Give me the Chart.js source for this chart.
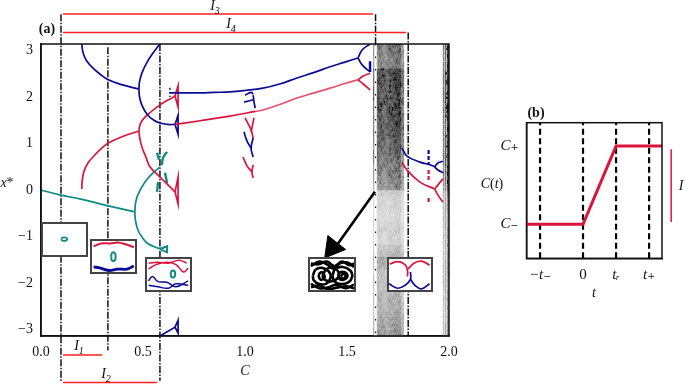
<!DOCTYPE html>
<html><head><meta charset="utf-8">
<script src="https://cdn.jsdelivr.net/npm/chart.js@4"></script>
<style>
html,body{margin:0;padding:0;background:#fff;width:685px;height:384px;overflow:hidden}
canvas{position:absolute}
.t{position:absolute;font-family:"Liberation Serif",serif;font-size:14px;color:#111;line-height:14px;white-space:nowrap;transform:translate(-50%,-50%)}
.t i sub{font-size:10px;line-height:0}
.box{position:absolute;background:#fff;border:2px solid #444;box-sizing:border-box}
.box canvas{position:absolute;left:0;top:0}
</style></head><body>
<canvas id="a" width="685" height="384" style="left:0;top:0"></canvas>
<canvas id="b" width="685" height="384" style="left:0;top:0"></canvas>
<div class="t" style="left:47px;top:29px;font-weight:bold">(a)</div>
<div class="t" style="left:215px;top:6px"><i>I<sub>3</sub></i></div>
<div class="t" style="left:231px;top:24px"><i>I<sub>4</sub></i></div>
<div class="t" style="left:79px;top:346px"><i>I<sub>1</sub></i></div>
<div class="t" style="left:106px;top:374px"><i>I<sub>2</sub></i></div>
<div class="t" style="left:7px;top:183px"><i>x</i>*</div>
<div class="t" style="left:245px;top:371px"><i>C</i></div>
<div class="t" style="left:536px;top:113px;font-weight:bold">(b)</div>
<div class="t" style="left:492px;top:184px"><i>C</i>(<i>t</i>)</div>
<div class="t" style="left:594px;top:293px"><i>t</i></div>
<div class="t" style="left:681px;top:186px"><i>I</i></div>
<script>
const RED="#dc143c",PINK="#e8506f",BLUE="#0b0b96",TEAL="#0b8b84",LINE="#ff2020";
const cTicks=[0,0.5,1,1.5,2];
const xTicks=[-3,-2,-1,0,1,2,3];
// main attractor branches (C, x*)
const blueStem=[[.2,3.14],[.203,3.02],[.21,2.9],[.225,2.77],[.255,2.62],[.29,2.49],[.33,2.37],[.4,2.26],[.48,2.17]];
const blueForkUp=[[.48,2.17],[.483,2.33],[.495,2.52],[.52,2.75],[.55,2.95],[.583,3.14]];
const blueForkDown=[[.48,2.17],[.483,2],[.495,1.82],[.52,1.63],[.55,1.51],[.583,1.44],[.62,1.41],[.657,1.41]];
const redStem=[[.2,.02],[.202,.2],[.21,.39],[.23,.58],[.255,.71],[.29,.87],[.33,1.01],[.4,1.15],[.48,1.27]];
const redForkUp=[[.48,1.27],[.484,1.38],[.495,1.49],[.52,1.61],[.583,1.83],[.62,1.93],[.657,2.02]];
const redForkDown=[[.48,1.27],[.484,1.12],[.495,.92],[.515,.7],[.534,.5],[.583,.28],[.62,.12],[.657,-.04]];
const tealStem=[[0,0],[.098,-.11],[.2,-.2],[.33,-.34],[.46,-.47]];
const tealForkUp=[[.46,-.47],[.463,-.3],[.475,-.1],[.51,.17],[.545,.35],[.583,.49]];
const tealForkDown=[[.46,-.47],[.463,-.65],[.475,-.86],[.495,-1.01],[.52,-1.14],[.56,-1.23],[.6,-1.27]];
const tealHead=[[.583,-1.27],[.618,-1.21],[.618,-1.34],[.583,-1.27]];
const tealBitA=[[.618,.82],[.598,.69],[.593,.54]];
const tealBitB=[[.569,.8],[.578,.65]];
const tealBitC=[[.608,.37],[.618,.15]];
const tealBitD=[[.574,.17],[.569,-.04]];
const redTriTop=[[.657,2.02],[.672,2.24],[.672,1.78],[.657,2.02]];
const blueTriMid=[[.657,1.41],[.672,1.61],[.672,1.2],[.657,1.41]];
const redTriLow=[[.657,-.04],[.672,.28],[.672,-.3],[.657,-.04]];
const blueTriBottom=[[.583,-3.14],[.657,-2.95],[.672,-2.8],[.672,-3.08],[.657,-2.95]];
const blueMain=[[.632,2.09],[.7,2.09],[.78,2.09],[.85,2.1],[.926,2.11],[1,2.14],[1.088,2.19],[1.17,2.28],[1.255,2.41],[1.34,2.53],[1.417,2.65],[1.49,2.75],[1.554,2.84]];
const redMainA=[[.657,1.41],[.78,1.49],[.926,1.59],[1.05,1.69]];
const redMainB=[[1.05,1.69],[1.088,1.72],[1.17,1.84],[1.255,1.98],[1.34,2.09],[1.417,2.19],[1.49,2.29],[1.554,2.37]];
const blueEndUp=[[1.554,2.84],[1.574,3.01],[1.613,3.14]];
const blueEndDown=[[1.554,2.84],[1.574,2.69],[1.613,2.54]];
const blueEndBar=[[1.613,2.77],[1.613,2.54]];
const redEndUp=[[1.554,2.37],[1.58,2.45],[1.613,2.51]];
const redEndDown=[[1.554,2.37],[1.58,2.28],[1.613,2.15]];
const blueC1a=[[1,2.04],[1.03,2.1],[1.04,2.06]];
const blueC1b=[[.995,1.89],[1.04,1.94]];
const blueC1c=[[1.04,2.04],[1.044,1.9],[1.05,1.76]];
const redC1a=[[1,1.55],[1.03,1.29],[1.04,1.12]];
const redC1b=[[1.044,1.55],[1.03,1.25]];
const blueC1d=[[.995,1.25],[1.01,1.05],[1.03,.9]];
const blueC1e=[[1.04,1.12],[1.03,.9],[1.04,.71]];
const redC1c=[[.99,.71],[1.01,.52],[1.034,.39]];
const redC1d=[[1.04,.54],[1.034,.39],[1.04,.26]];
const blueRight=[[1.77,.9],[1.794,.73],[1.858,.6],[1.92,.52],[1.946,.43],[1.97,.37]];
const blueRightFork=[[1.93,.5],[1.946,.58],[1.97,.62]];
const redRight=[[1.77,.6],[1.794,.43],[1.858,.17],[1.93,.02]];
const redRightUp=[[1.93,.02],[1.946,.11],[1.97,.24]];
const redRightDown=[[1.93,.02],[1.946,-.11],[1.97,-.26]];
const blueDash=[[1.9,.86],[1.9,.54]];
const redDash=[[1.9,.43],[1.9,.21]];
const redDashLow=[[1.9,-.17],[1.9,-.26]];
const blueDashC=[[.632,2.2],[.632,2.0]];
// guides
const guide1=[[.098,3.78],[.098,-4.1]];
const guide2=[[.328,3.07],[.328,-3.45]];
const guide3=[[.583,3.14],[.583,-4.1]];
const guide4=[[1.64,3.78],[1.64,3.14]];
const guide4b=[[1.64,3.14],[1.64,-3.14]];
const guide5=[[1.8,3.39],[1.8,-3.14]];
const spanI3=[[.108,3.785],[1.627,3.785]];
const spanI4=[[.108,3.39],[1.79,3.39]];
const spanI1=[[.108,-3.55],[.3,-3.55]];
const spanI2=[[.108,-4.14],[.569,-4.14]];
const arrowShaft=[[1.637,-.04],[1.45,-1.19]];
const arrowTip=[[1.43,-1.24]];
// chaotic bands: grey level read row by row from top to bottom
const bandDark=[.6,.6,.55,.6,.88,.88,.85,.82,.8,.8,.78,.78,.76,.78,.76,.75,.72,.7,.66,.62,.58,.55,.52,.5,.24,.2,.2,.18,.18,.2,.22,.2,.2,.26,.32,.42,.36,.3,.3,.32,.3,.34,.36,.36,.4,.42,.44,.48];
const stripDark=[.72,.72,.72,.78,.85,.85,.8,.8,.8,.8,.8,.8,.78,.78,.78,.78,.75,.75,.75,.72,.7,.7,.7,.68,.5,.42,.42,.4,.4,.38,.38,.38,.38,.38,.38,.38,.38,.38,.38,.38,.38,.38,.38,.38,.38,.38,.38,.38];
const bandCols=[.75,.95,1.05,1,.95,1.05,1,1.05,.95,.7];
const stripCols=[.85,1.05,1.35];
const grain=[1,.82,1.15,.93,1.24,.78,1.06,.88,1.2,.97,.8,1.1,1.27,.85,1.02,.92,1.18,.76,1.08,.95,1.22,.84,1.04,.9,1.14,.79,1.12,.98,1.25,.87,1.01];

const inset1Orbit=[[20,17],[21,15.5],[23,15],[25.5,15.5],[26.5,17],[25.5,18.5],[23,19],[21,18.5],[20,17]];
const inset2Red=[[1.7,6],[10,2.7],[20,2.7],[28,1.7],[36.7,3.7],[45.7,7]];
const inset2Blue=[[1.7,29.3],[8.3,30.3],[18.3,33.3],[28,31.7],[38,31.7],[45.7,28.3]];
const inset2Teal=[[21,17.7],[21.5,14],[23.3,12.7],[25.2,14],[25.8,17.7],[25.2,21.5],[23.3,22.7],[21.5,21.5],[21,17.7]];
const inset3RedA=[[1.7,4.7],[11.7,3.7],[23.3,4.7],[35,1.3],[43.3,4.7]];
const inset3RedB=[[1.7,11.3],[10,6.3],[21.7,3.7],[31.7,6.3],[40,14.7],[45,10.3]];
const inset3BlueA=[[1.7,24.7],[6,19.7],[11.7,25.3],[21.7,26.3],[31.7,31.3],[45,24.7]];
const inset3BlueB=[[1.7,29.7],[11.7,31.3],[23.3,33],[31.7,28],[45,29.7]];
const inset3Teal=[[26,17],[26.5,14],[28.3,13],[30.2,14],[30.8,17],[30.2,20],[28.3,21],[26.5,20],[26,17]];
const inset4Top=[[1,8],[10,3],[18,6],[25,11],[32,5],[40,4],[47,9]];
const inset4TopB=[[1,5],[9,6],[18,3],[26,8],[34,3],[42,7],[47,5]];
const inset4Bottom=[[1,28],[10,33],[20,32],[28,29],[38,33],[47,29]];
const inset4BottomB=[[1,32],[9,30],[20,34],[30,32],[40,31],[47,33]];
const inset4LoopA=[[3,19],[6,12],[13,10],[20,14],[22,21],[17,28],[9,28],[4,24],[3,19]];
const inset4LoopB=[[24,19],[27,11],[35,9],[43,13],[45,20],[40,27],[31,28],[26,25],[24,19]];
const inset4LoopC=[[14,16],[20,10],[27,11],[31,17],[27,24],[19,25],[14,21],[14,16]];
const inset4LoopD=[[30,19],[32,15],[37,15],[40,19],[37,23],[32,23],[30,19]];
const inset4LoopE=[[9,18],[12,15],[15,17],[15,22],[11,23],[9,18]];
const inset4LoopF=[[33,20],[35,17],[38,18],[37,21],[34,22],[33,20]];
const inset5RedA=[[.7,5.7],[9.7,3],[18,6.3],[20.7,13],[20.7,19.7]];
const inset5RedB=[[21.3,11.3],[28,4.7],[36.3,2.3],[45.3,7]];
const inset5BlueA=[[0,28],[9.7,33],[18,29.7],[24,23],[24,14.7]];
const inset5BlueB=[[24,23],[29.7,30.3],[36.3,33.7],[45.3,28]];
// panel b
const tTickValues=[-1.3,0,1,2];
const tTickLabels=["\u2212t\u208B","0","t\u1D63","t\u208A"];
const cTickValues=[0,1];
const cTickLabels=["C\u208B","C\u208A"];
const ramp=[[-1.71,0],[0,0],[1,1],[2.39,1]];
const spanI=[[2.667,.96],[2.667,.03]];

const pts=a=>a.map(p=>({x:p[0],y:p[1]}));
const curve=(a,color,w=1.7,tension=.42,extra={})=>Object.assign({data:pts(a),borderColor:color,borderWidth:w,tension,pointRadius:0,showLine:true,order:5,borderCapStyle:'butt'},extra);
const DD=[7,1.5,1.5,1.5];
const guide=a=>curve(a,"#111",1.5,0,{clip:false,borderDash:DD,order:8});
const span=a=>curve(a,LINE,1.5,0,{clip:false,order:6});
// rows and columns of the shaded bands are split into fine cells
const band=(rows,xa,xb,cols,ord)=>{
  const sub=3,fineRows=rows.flatMap(d=>Array(sub).fill(d)),cells=cols.length*sub;
  const edges=Array.from({length:cells+1},(_,i)=>xa+(xb-xa)*i/cells);
  return fineRows.map((d,r)=>{
    const y=3.14-6.28*(r+.5)/fineRows.length;
    return {data:edges.map(x=>({x,y})),borderWidth:2.3,pointRadius:0,showLine:true,order:ord,tension:0,borderColor:'#888',
      segment:{borderColor:c=>{const k=c.p0DataIndex;const v=Math.min(.93,d*cols[Math.floor(k/sub)]*grain[(r*r*3+k*k*5+r*k*7+r*11+k*17)%grain.length]);const g=Math.round(255*(1-v));return `rgb(${g},${g},${g})`;}}};
  });
};
const frame={id:'frame',afterDatasetsDraw(ch){const {left,top,width,height}=ch.chartArea;const c=ch.ctx;c.save();c.strokeStyle='#111';c.lineWidth=1.5;c.strokeRect(left,top,width,height);c.restore();}};
const tickFont={family:'"Liberation Serif","DejaVu Serif",serif',size:14};

const ds=[
 ...band(bandDark,1.628,1.78,bandCols,50),
 ...band(stripDark,1.97,2.0,stripCols,50),
 curve(guide4b,"#fff",2.5,0,{order:20}),
 curve(guide4b,"#111",1.2,0,{borderDash:[1.5,11],order:19}),
 guide(guide1),guide(guide2),guide(guide3),guide(guide4),guide(guide5),
 span(spanI1),span(spanI2),span(spanI3),span(spanI4),
 ...[blueStem,blueForkUp,blueForkDown,blueMain,blueEndUp,blueEndDown,blueRight,blueRightFork,blueC1a,blueC1b,blueC1c,blueC1d,blueC1e].map(a=>curve(a,BLUE)),
 ...[redStem,redForkUp,redForkDown,redMainA,redEndUp,redEndDown,redRight,redRightUp,redRightDown,redC1a,redC1b,redC1c,redC1d].map(a=>curve(a,RED)),
 ...[redTriTop,redTriLow].map(a=>curve(a,RED,1.7,0)),
 ...[blueTriMid,blueTriBottom].map(a=>curve(a,BLUE,1.7,0)),
 curve(redMainB,PINK),
 curve(blueEndBar,BLUE,2.5,0),
 curve(blueDash,BLUE,2.2,0,{borderDash:[4,2]}),
 curve(redDash,RED,2.2,0,{borderDash:[4,2]}),
 curve(redDashLow,RED,2.2,0),
 curve(blueDashC,BLUE,1.5,0,{borderDash:[2,2]}),
 ...[tealStem,tealForkUp,tealForkDown].map(a=>curve(a,TEAL)),
 curve(tealHead,TEAL,2,0),
 ...[tealBitA,tealBitB,tealBitC,tealBitD].map(a=>curve(a,TEAL,2.4)),
 curve(arrowShaft,"#000",2.6,0,{clip:false,order:1}),
 {data:pts(arrowTip),pointStyle:'triangle',pointRadius:13,pointRotation:218,backgroundColor:"#000",borderColor:"#000",showLine:false,order:1},
];
new Chart(document.getElementById('a'),{type:'scatter',data:{datasets:ds},plugins:[frame],options:{
 responsive:false,animation:false,events:[],
 layout:{padding:{left:0,right:236,top:44,bottom:0}},
 plugins:{legend:{display:false},tooltip:{enabled:false}},
 scales:{
  x:{type:'linear',min:0,max:2,grid:{display:false,tickLength:5,tickColor:'#111'},border:{color:'#111',width:1.5},
     afterBuildTicks:s=>{s.ticks=cTicks.map(v=>({value:v}));},afterFit:s=>{s.height=48;},
     ticks:{font:tickFont,color:'#111',padding:3,maxRotation:0,callback:v=>v.toFixed(1)}},
  y:{type:'linear',min:-3.14,max:3.14,grid:{display:false,tickLength:5,tickColor:'#111'},border:{color:'#111',width:1.5},
     afterBuildTicks:s=>{s.ticks=xTicks.map(v=>({value:v}));},afterFit:s=>{s.width=41;},
     ticks:{font:tickFont,color:'#111',padding:3,callback:v=>v<0?'\u2212'+(-v):''+v}}
 }}});

const vDash=t=>curve([[t,-.434],[t,1.298]],"#000",2.2,0,{borderDash:[6,3.5],order:8});
const italicFont=c=>({family:tickFont.family,size:15,style:c.tick&&c.tick.value===0&&c.scale.axis==='x'?'normal':'italic'});
new Chart(document.getElementById('b'),{type:'scatter',data:{datasets:[
  ...tTickValues.map(vDash),
  curve(ramp,RED,3,0,{order:2,borderJoinStyle:'miter'}),
  curve(spanI,RED,1.5,0,{clip:false,order:2}),
]},plugins:[frame],options:{
 responsive:false,animation:false,events:[],
 layout:{padding:{left:0,right:23,top:122.7,bottom:0}},
 plugins:{legend:{display:false},tooltip:{enabled:false}},
 scales:{
  x:{type:'linear',min:-1.71,max:2.39,grid:{display:false,tickLength:5,tickColor:'#111'},border:{color:'#111',width:1.5},
     afterBuildTicks:s=>{s.ticks=tTickValues.map(v=>({value:v}));},afterFit:s=>{s.height=125.7;},
     ticks:{font:italicFont,color:'#111',padding:3,maxRotation:0,autoSkip:false,callback:v=>tTickLabels[tTickValues.indexOf(v)]}},
  y:{type:'linear',min:-.434,max:1.298,grid:{display:false,tickLength:5,tickColor:'#111'},border:{color:'#111',width:1.5},
     afterBuildTicks:s=>{s.ticks=cTickValues.map(v=>({value:v}));},afterFit:s=>{s.width=526.5;},
     ticks:{font:italicFont,color:'#111',padding:3,callback:v=>cTickLabels[cTickValues.indexOf(v)]}}
 }}});

function inset(l,t,r,b,sets){
  const d=document.createElement('div');d.className='box';
  d.style.cssText=`left:${l}px;top:${t}px;width:${r-l}px;height:${b-t}px`;
  const c=document.createElement('canvas');c.width=r-l-4;c.height=b-t-4;d.appendChild(c);document.body.appendChild(d);
  new Chart(c,{type:'scatter',data:{datasets:sets},options:{responsive:false,animation:false,events:[],
    layout:{padding:0},plugins:{legend:{display:false},tooltip:{enabled:false}},
    scales:{x:{type:'linear',min:0,max:47,display:false},y:{type:'linear',min:0,max:35,reverse:true,display:false}}}});
}
inset(41,222,88,257,[curve(inset1Orbit,TEAL,1.8)]);
inset(90,239,137,274,[curve(inset2Red,RED,2),curve(inset2Blue,BLUE,2.8),curve(inset2Teal,TEAL,2)]);
inset(145,257,192,292,[curve(inset3RedA,RED,1.5),curve(inset3RedB,RED,1.5),curve(inset3BlueA,BLUE,1.5),curve(inset3BlueB,BLUE,1.5),curve(inset3Teal,TEAL,2)]);
inset(308,257,356,292,[inset4Top,inset4TopB,inset4Bottom,inset4BottomB,inset4LoopA,inset4LoopB,inset4LoopC,inset4LoopD,inset4LoopE,inset4LoopF].map(a=>curve(a,"#000",2.6)));
inset(387,257,433,292,[curve(inset5RedA,RED,1.7),curve(inset5RedB,RED,1.7),curve(inset5BlueA,BLUE,1.7),curve(inset5BlueB,BLUE,1.7)]);
</script>
</body></html>
